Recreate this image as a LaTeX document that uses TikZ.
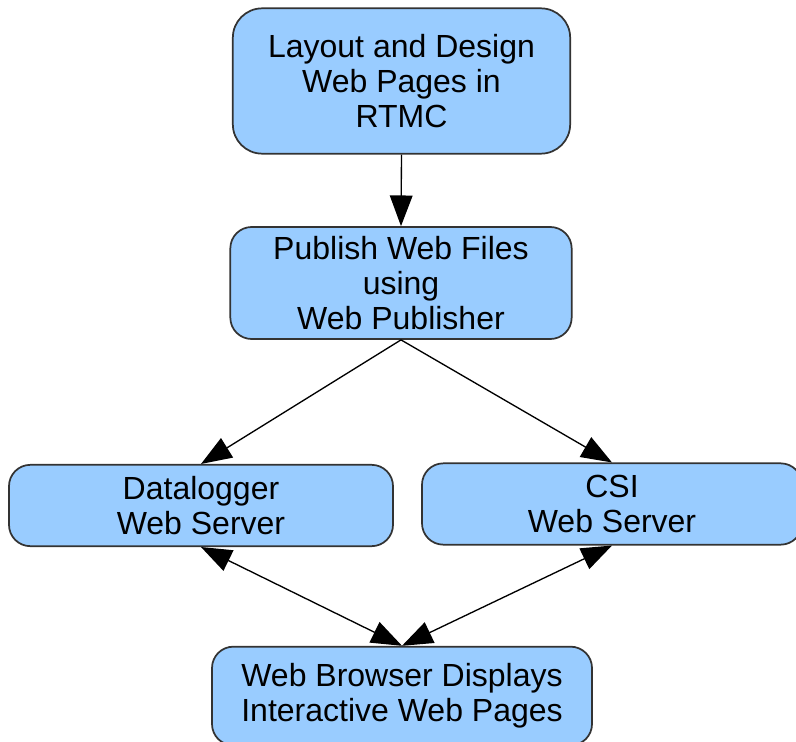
\documentclass[tikz,border=0pt]{standalone}
\usepackage{fontspec}
\setmainfont{Liberation Sans}
\usetikzlibrary{arrows.meta}
\definecolor{boxfill}{HTML}{99CCFF}
\definecolor{boxline}{HTML}{333333}
\begin{document}
\begin{tikzpicture}[x=0.75pt,y=0.75pt,yscale=-1,xscale=1,
    box/.style={draw=boxline, fill=boxfill, line width=1.3pt, rounded corners=16pt, inner sep=0pt, align=center, font=\fontsize{24}{26.5}\selectfont},
    flow/.style={line width=1pt, -{Triangle[length=23pt,width=17pt]}},
    both/.style={line width=1pt, {Triangle[length=23pt,width=17pt]}-{Triangle[length=23pt,width=17pt]}}]
            \useasboundingbox (0,0) rectangle (796,742); % picture frame
            % Boxes
            \node [box, rounded corners=22pt, minimum width=253pt, minimum height=109pt] (design) at (401.5,81) {Layout and Design\\Web Pages in\\RTMC}; % Box design
            \node [box, minimum width=256pt, minimum height=84pt] (publish) at (401,283) {Publish Web Files\\using\\Web Publisher}; % Box publish
            \node [box, minimum width=288pt, minimum height=61pt] (logger) at (201,505.5) {Datalogger\\Web Server}; % Box logger
            \node [box, minimum width=285pt, minimum height=61pt] (csi) at (612,504) {CSI\\Web Server}; % Box csi
            \node [box, minimum width=285pt, minimum height=74pt] (browser) at (402,696) {Web Browser Displays\\Interactive Web Pages}; % Box browser

            % Connectors
            \draw [flow] (design.south) -- (publish.north);
            \draw [flow] (publish.south) -- (logger.north);
            \draw [flow] (publish.south) -- (csi.north);
            \draw [both] (logger.south) -- (browser.north);
            \draw [both] (csi.south) -- (browser.north);
        \end{tikzpicture}
\end{document}
